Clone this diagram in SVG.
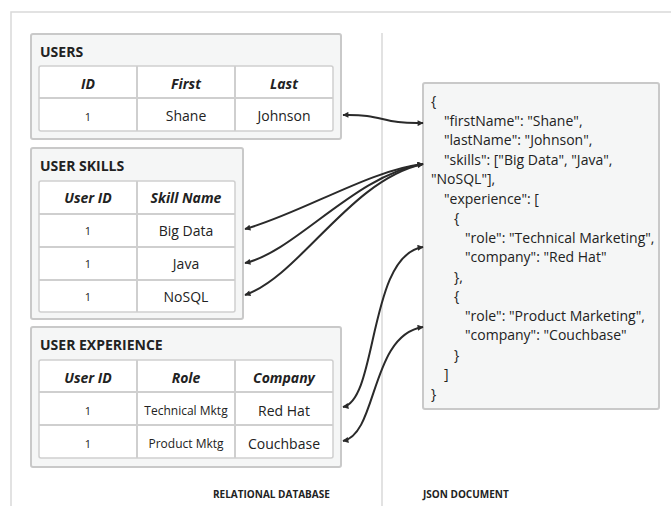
<svg xmlns="http://www.w3.org/2000/svg" width="671" height="506" viewBox="0 0 671 506">
<style>
.frame{fill:none;stroke:#d9d9d9;stroke-width:1.5}
.box{fill:#f5f6f6;stroke:#c9c9c9;stroke-width:2}
.tbl{fill:#ffffff;stroke:#cfcfcf;stroke-width:1.5}
.grid{stroke:#cfcfcf;stroke-width:2}
text{font-family:"Open Sans","Noto Sans","DejaVu Sans",sans-serif;fill:#222}
.title{font-size:14px;font-weight:bold}
.hd{font-size:14px;font-weight:bold;font-style:italic;text-anchor:middle}
.cell{font-size:14px;text-anchor:middle}
.sm{font-size:12px;text-anchor:middle}
.one{font-size:11px;text-anchor:middle}
.json{font-size:14px}
.lbl{font-size:10px;font-weight:bold}
.conn{fill:none;stroke:#2a2a2a;stroke-width:2}
</style>
<defs>
<marker id="ah" viewBox="0 0 10 10" refX="9" refY="5" markerWidth="9" markerHeight="6" markerUnits="userSpaceOnUse" orient="auto-start-reverse">
<path d="M0,0 L10,5 L0,10 Z" fill="#2a2a2a"/>
</marker>
</defs>
<g id="frame">
<path class="frame" d="M11,506 L11,12 L671,12"/>
<line class="frame" x1="382" y1="33" x2="382" y2="506"/>
</g>
<g id="users">
<rect class="box" x="31" y="34" width="310" height="105" rx="2"/>
<text class="title" x="40" y="57">USERS</text>
<rect class="tbl" x="39" y="66" width="294" height="65" rx="2"/>
<line class="grid" x1="137" y1="66" x2="137" y2="131"/>
<line class="grid" x1="235" y1="66" x2="235" y2="131"/>
<line class="grid" x1="39" y1="98" x2="333" y2="98"/>
<text class="hd" x="88" y="89">ID</text>
<text class="hd" x="186" y="89">First</text>
<text class="hd" x="284" y="89">Last</text>
<text class="one" x="88" y="121">1</text>
<text class="cell" x="186" y="121">Shane</text>
<text class="cell" x="284" y="121">Johnson</text>
</g>
<g id="user-skills">
<rect class="box" x="31" y="148" width="212" height="171" rx="2"/>
<text class="title" x="40" y="171">USER SKILLS</text>
<rect class="tbl" x="39" y="181" width="196" height="131" rx="2"/>
<line class="grid" x1="137" y1="181" x2="137" y2="312"/>
<line class="grid" x1="39" y1="214" x2="235" y2="214"/>
<line class="grid" x1="39" y1="247" x2="235" y2="247"/>
<line class="grid" x1="39" y1="280" x2="235" y2="280"/>
<text class="hd" x="88" y="203">User ID</text>
<text class="hd" x="186" y="203">Skill Name</text>
<text class="one" x="88" y="235">1</text>
<text class="cell" x="186" y="236">Big Data</text>
<text class="one" x="88" y="268">1</text>
<text class="cell" x="186" y="269">Java</text>
<text class="one" x="88" y="301">1</text>
<text class="cell" x="186" y="302">NoSQL</text>
</g>
<g id="user-experience">
<rect class="box" x="31" y="327" width="310" height="140" rx="2"/>
<text class="title" x="40" y="350">USER EXPERIENCE</text>
<rect class="tbl" x="39" y="360" width="294" height="98" rx="2"/>
<line class="grid" x1="137" y1="360" x2="137" y2="458"/>
<line class="grid" x1="235" y1="360" x2="235" y2="458"/>
<line class="grid" x1="39" y1="392" x2="333" y2="392"/>
<line class="grid" x1="39" y1="425" x2="333" y2="425"/>
<text class="hd" x="88" y="383">User ID</text>
<text class="hd" x="186" y="383">Role</text>
<text class="hd" x="284" y="383">Company</text>
<text class="one" x="88" y="415">1</text>
<text class="sm" x="186" y="415">Technical Mktg</text>
<text class="cell" x="284" y="416">Red Hat</text>
<text class="one" x="88" y="448">1</text>
<text class="sm" x="186" y="448">Product Mktg</text>
<text class="cell" x="284" y="449">Couchbase</text>
</g>
<g id="json-document">
<rect class="box" x="423" y="83" width="236" height="326" rx="2"/>
<text class="json" x="431" y="106">{</text>
<text class="json" x="444" y="126">"firstName": "Shane",</text>
<text class="json" x="444" y="145">"lastName": "Johnson",</text>
<text class="json" x="444" y="165">"skills": ["Big Data", "Java",</text>
<text class="json" x="431" y="184">"NoSQL"],</text>
<text class="json" x="444" y="204">"experience": [</text>
<text class="json" x="454" y="223">{</text>
<text class="json" x="465" y="243">"role": "Technical Marketing",</text>
<text class="json" x="465" y="262">"company": "Red Hat"</text>
<text class="json" x="454" y="282">},</text>
<text class="json" x="454" y="301">{</text>
<text class="json" x="465" y="321">"role": "Product Marketing",</text>
<text class="json" x="465" y="340">"company": "Couchbase"</text>
<text class="json" x="454" y="360">}</text>
<text class="json" x="444" y="379">]</text>
<text class="json" x="431" y="399">}</text>
</g>
<g id="labels">
<text class="lbl" x="213" y="498">RELATIONAL DATABASE</text>
<text class="lbl" x="423" y="498">JSON DOCUMENT</text>
</g>
<g id="connectors">
<path class="conn" marker-start="url(#ah)" marker-end="url(#ah)" d="M343,115 C385,114 380,124 423,123"/>
<path class="conn" marker-start="url(#ah)" marker-end="url(#ah)" d="M245,229 C300,214 370,170 423,164"/>
<path class="conn" marker-start="url(#ah)" marker-end="url(#ah)" d="M245,263 C295,252 355,175 423,164"/>
<path class="conn" marker-start="url(#ah)" marker-end="url(#ah)" d="M245,295 C300,276 350,180 423,164"/>
<path class="conn" marker-start="url(#ah)" marker-end="url(#ah)" d="M343,407 C378,400 368,255 423,247"/>
<path class="conn" marker-start="url(#ah)" marker-end="url(#ah)" d="M343,441 C378,434 370,335 423,327"/>
</g>
</svg>
